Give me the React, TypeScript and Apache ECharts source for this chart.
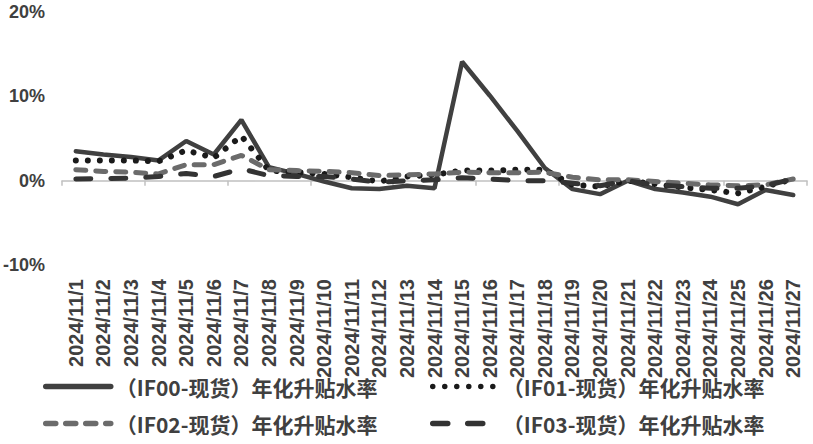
import React, { useEffect, useRef } from "react";
import * as echarts from "echarts";

const dates = [
  "2024/11/1", "2024/11/2", "2024/11/3", "2024/11/4", "2024/11/5", "2024/11/6", "2024/11/7",
  "2024/11/8", "2024/11/9", "2024/11/10", "2024/11/11", "2024/11/12", "2024/11/13", "2024/11/14",
  "2024/11/15", "2024/11/16", "2024/11/17", "2024/11/18", "2024/11/19", "2024/11/20", "2024/11/21",
  "2024/11/22", "2024/11/23", "2024/11/24", "2024/11/25", "2024/11/26", "2024/11/27",
];

const seriesNames = [
  "（IF00-现货）年化升贴水率",
  "（IF01-现货）年化升贴水率",
  "（IF02-现货）年化升贴水率",
  "（IF03-现货）年化升贴水率",
];

const if00 = [3.5, 3.1, 2.8, 2.4, 4.7, 3.1, 7.2, 1.6, 0.8, -0.1, -0.9, -1.0, -0.6, -0.9, 14.1, 10.1, 5.9, 1.5, -1.0, -1.6, 0.0, -1.0, -1.4, -1.9, -2.8, -1.1, -1.7];
const if01 = [2.4, 2.4, 2.4, 2.3, 3.6, 2.7, 5.3, 1.2, 1.0, 0.8, 0.4, -0.1, 0.5, 0.7, 1.2, 1.2, 1.3, 1.3, -0.5, -0.7, 0.0, -0.4, -0.8, -1.1, -1.5, -0.7, 0.2];
const if02 = [1.3, 1.1, 1.0, 0.8, 1.9, 1.9, 3.0, 1.3, 1.2, 1.1, 0.95, 0.6, 0.7, 0.8, 1.0, 0.95, 0.95, 1.0, 0.4, 0.1, 0.1, -0.1, -0.3, -0.5, -0.6, -0.5, 0.2];
const if03 = [0.2, 0.25, 0.3, 0.5, 0.85, 0.5, 1.4, 0.6, 0.5, 0.5, 0.2, -0.2, 0.0, 0.1, 0.35, 0.2, 0.0, 0.0, -0.3, -0.6, 0.0, -0.5, -0.7, -0.9, -0.9, -0.6, 0.2];

const yTicks = { min: -10, max: 20, interval: 10 };

export default function App() {
  const ref = useRef<HTMLDivElement>(null);

  useEffect(() => {
    if (!ref.current) return;
    const chart = echarts.init(ref.current, undefined, { renderer: "svg" });
    const labelFont = {
      fontFamily: "'Liberation Sans', Arial, sans-serif",
      fontWeight: "bold" as const,
      fontSize: 18,
      color: "#404040",
    };
    const legendText = {
      fontFamily: "'Noto Sans CJK SC', sans-serif",
      fontWeight: "bold" as const,
      fontSize: 21,
      color: "#404040",
    };
    const legendBase = {
      orient: "horizontal" as const,
      padding: 0,
      itemWidth: 65,
      itemHeight: 14,
      itemGap: 0,
      selectedMode: false,
      textStyle: legendText,
      itemStyle: { opacity: 0 },
      lineStyle: { width: 5.5 },
    };
    const series = [
      { name: seriesNames[0], data: if00, color: "#404040", lineStyle: { width: 4.5, type: "solid" as const, cap: "round" as const } },
      { name: seriesNames[1], data: if01, color: "#1a1a1a", lineStyle: { width: 6, type: [0.01, 12], cap: "round" as const } },
      { name: seriesNames[2], data: if02, color: "#6b6b6b", lineStyle: { width: 5, type: [10, 10], cap: "round" as const } },
      { name: seriesNames[3], data: if03, color: "#333333", lineStyle: { width: 5, type: [15, 20], cap: "round" as const } },
    ].map((s) => ({
      type: "line" as const,
      xAxisIndex: 0,
      yAxisIndex: 0,
      symbol: "none",
      showSymbol: false,
      ...s,
    }));

    chart.setOption({
      animation: false,
      backgroundColor: "#ffffff",
      grid: { left: 61, right: 6, top: 12, bottom: 179, containLabel: false },
      xAxis: [
        {
          type: "category",
          data: dates,
          position: "bottom",
          boundaryGap: true,
          axisLine: { show: false, onZero: false },
          axisTick: { show: false },
          axisLabel: { ...labelFont, fontSize: 20, rotate: 90, margin: 14, interval: 0 },
        },
        {
          type: "category",
          data: dates,
          position: "bottom",
          boundaryGap: true,
          axisLine: { show: true, onZero: true, lineStyle: { color: "#c0c0c0", width: 1.5 } },
          axisTick: { show: true, length: 5, lineStyle: { color: "#c0c0c0", width: 1.5 } },
          axisLabel: { show: false },
        },
      ],
      yAxis: {
        type: "value",
        min: yTicks.min,
        max: yTicks.max,
        interval: yTicks.interval,
        axisLine: { show: false },
        axisTick: { show: false },
        splitLine: { show: false },
        axisLabel: { ...labelFont, margin: 17, formatter: (v: number) => `${v}%` },
      },
      legend: [
        { ...legendBase, data: [seriesNames[0]], left: 43, top: 376 },
        { ...legendBase, data: [seriesNames[1]], left: 430, top: 376 },
        { ...legendBase, data: [seriesNames[2]], left: 43, top: 413 },
        { ...legendBase, data: [seriesNames[3]], left: 430, top: 413 },
      ],
      series,
    });
    return () => chart.dispose();
  }, []);

  return (
    <div
      ref={ref}
      style={{ position: "fixed", left: 0, top: 0, width: 813, height: 444, background: "#fff" }}
    />
  );
}
